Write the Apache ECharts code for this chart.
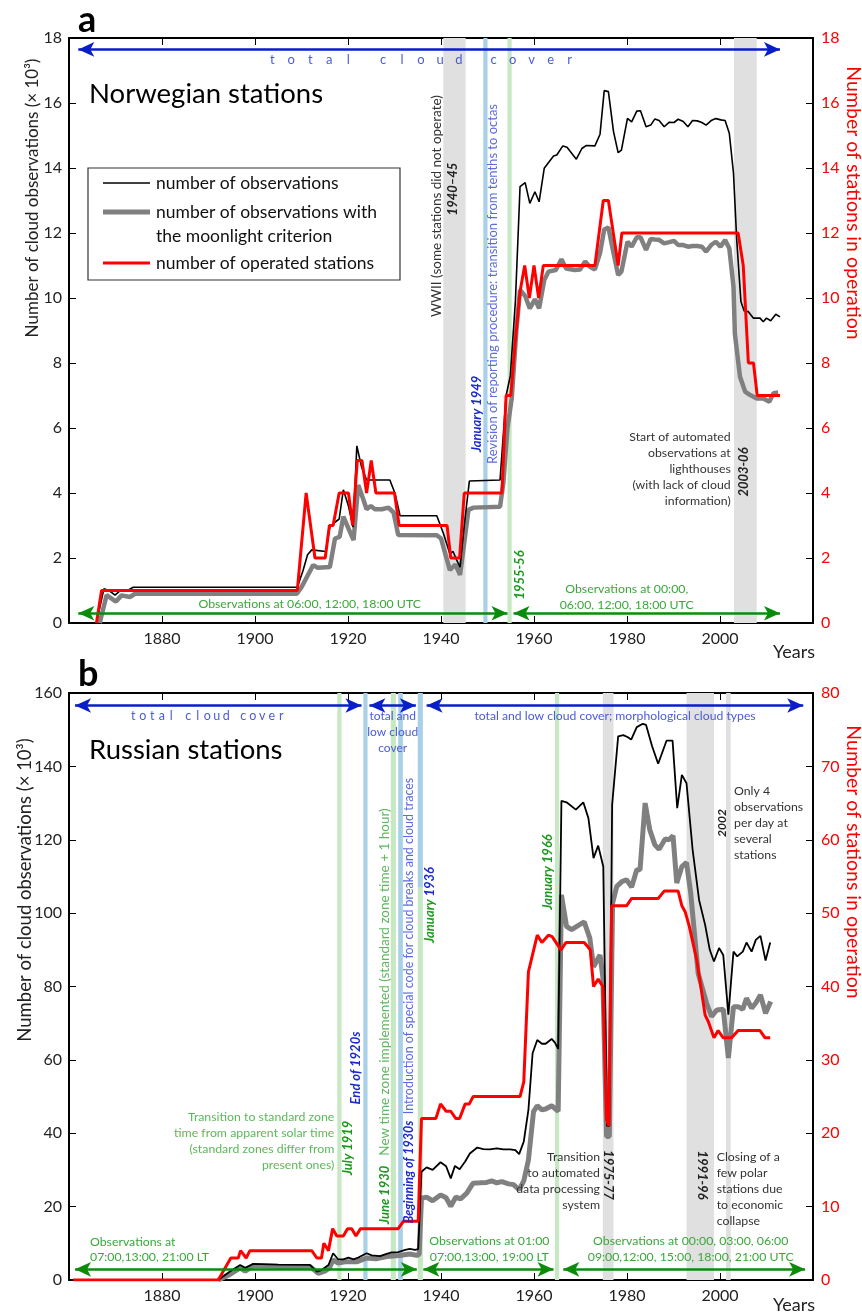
<!DOCTYPE html>
<html><head><meta charset="utf-8">
<script src="https://cdn.jsdelivr.net/npm/echarts@6/dist/echarts.min.js"></script>
<style>html,body{margin:0;padding:0;background:#fff}#c{width:862px;height:1314px}</style>
</head><body><div id="c"></div>
<script>
// ---------- DATA: Norwegian stations (panel a) ----------
const obsNorway = [[1865.9,0],[1867.5,1.05],[1868.6,1.0],[1869.9,0.86],[1871.2,1.02],[1872.6,1.0],[1873.8,1.1],[1909.1,1.1],[1910.3,1.6],[1911.3,2.1],[1912.2,2.25],[1915.2,2.2],[1916.1,2.96],[1917.2,3.1],[1918.1,3.2],[1919.0,4.1],[1920.1,3.6],[1921.1,2.95],[1921.9,5.45],[1922.9,4.81],[1924.0,4.4],[1929.0,4.4],[1930.1,3.99],[1931.2,3.3],[1939.1,3.3],[1940.5,2.76],[1941.9,2.14],[1942.6,2.2],[1943.3,1.96],[1944.1,1.72],[1945.0,3.0],[1946.1,4.37],[1952.7,4.4],[1953.5,6.0],[1954.0,7.0],[1954.9,7.6],[1956.0,9.9],[1956.6,12.0],[1957.0,13.43],[1958.1,13.55],[1959.1,12.91],[1960.2,13.27],[1961.1,12.96],[1962.2,13.99],[1964.2,14.37],[1964.9,14.4],[1966.2,14.68],[1967.1,14.64],[1969.1,14.27],[1970.3,14.6],[1971.2,14.69],[1973.1,14.68],[1974.2,15.04],[1975.1,16.38],[1976.0,16.35],[1977.1,15.12],[1978.1,14.47],[1978.8,14.55],[1980.1,15.53],[1981.0,15.42],[1982.1,15.75],[1982.9,15.76],[1984.1,15.27],[1985.1,15.32],[1986.0,15.51],[1986.9,15.46],[1988.0,15.27],[1989.1,15.41],[1990.1,15.4],[1991.0,15.5],[1992.1,15.43],[1993.1,15.27],[1994.1,15.46],[1995.1,15.45],[1996.1,15.4],[1997.0,15.32],[1998.1,15.46],[1999.1,15.52],[2000.2,15.48],[2001.1,15.46],[2002.0,15.07],[2002.9,13.84],[2003.6,11.78],[2004.5,9.89],[2005.2,9.6],[2006.1,9.58],[2007.2,9.38],[2008.6,9.38],[2009.3,9.27],[2010.0,9.38],[2010.9,9.3],[2012.0,9.5],[2012.9,9.42]];
const moonNorway = [[1866.6,0],[1868.1,0.86],[1870.1,0.66],[1871.3,0.85],[1873.1,0.8],[1874.2,0.9],[1909.0,0.9],[1910.0,1.1],[1912.5,1.78],[1913.5,1.7],[1916.1,1.72],[1917.2,2.6],[1918.2,2.65],[1919.0,3.27],[1921.2,2.55],[1922.2,4.25],[1923.3,3.8],[1924.0,3.5],[1924.9,3.6],[1925.8,3.5],[1927.3,3.5],[1928.7,3.55],[1929.8,3.4],[1930.8,2.71],[1939.1,2.7],[1940.0,2.6],[1941.9,1.63],[1943.1,1.8],[1944.1,1.48],[1945.9,3.48],[1947.0,3.55],[1952.7,3.58],[1953.4,4.3],[1954.3,6.0],[1955.2,6.9],[1956.2,9.0],[1957.0,10.25],[1958.1,10.06],[1959.1,9.68],[1960.2,9.96],[1961.1,9.68],[1962.2,10.55],[1963.1,10.81],[1964.7,10.86],[1965.9,11.19],[1966.9,10.91],[1968.8,10.86],[1969.9,10.88],[1971.0,11.12],[1972.0,10.96],[1973.1,10.88],[1974.2,11.38],[1975.1,12.11],[1976.0,12.17],[1977.1,11.38],[1978.1,10.71],[1978.8,10.81],[1980.1,11.73],[1981.0,11.58],[1982.1,11.87],[1982.9,11.87],[1984.1,11.48],[1985.1,11.82],[1986.0,11.8],[1986.9,11.79],[1988.0,11.68],[1989.1,11.72],[1990.1,11.76],[1991.0,11.63],[1992.1,11.63],[1993.1,11.58],[1994.1,11.6],[1995.1,11.6],[1996.1,11.58],[1997.0,11.43],[1998.1,11.63],[1999.1,11.73],[2000.1,11.58],[2001.1,11.78],[2002.0,11.53],[2002.9,10.35],[2003.2,8.9],[2004.3,7.58],[2005.4,7.12],[2006.4,7.02],[2007.9,6.91],[2009.3,6.91],[2010.6,6.81],[2011.5,7.07],[2012.5,7.09]];
const stationsNorway = [[1865.9,0],[1867.0,1],[1909.1,1],[1911.0,4],[1912.9,2],[1915.1,2],[1916.0,3],[1916.8,3],[1918.1,4],[1920.1,4],[1921.0,3],[1922.0,5],[1923.0,5],[1924.0,4],[1925.0,5],[1926.0,4],[1930.0,4],[1931.0,3],[1941.3,3],[1942.1,2],[1944.0,2],[1945.0,4],[1953.1,4],[1954.0,7],[1955.0,7],[1956.0,8.7],[1957.0,10.2],[1958.0,11],[1959.0,10],[1960.0,11],[1961.0,10],[1962.0,11],[1973.1,11],[1974.9,13],[1976.0,13],[1978.1,11],[1978.9,12],[2003.9,12],[2005.0,11],[2006.1,8],[2007.2,8],[2008.0,7],[2012.9,7]];

// ---------- DATA: Russian stations (panel b) ----------
const obsRussia = [[1892.1,0],[1894.6,2.3],[1896.8,4.1],[1897.9,3.3],[1899.6,4.4],[1905.0,4.2],[1911.8,4.1],[1913.3,2.3],[1914.3,2.7],[1915.8,4.1],[1916.8,7.3],[1917.9,5.6],[1919.0,5.6],[1920.1,6.1],[1921.2,5.6],[1922.2,6.1],[1924.0,7.3],[1925.1,6.7],[1926.9,6.5],[1928.3,7.1],[1929.4,7.5],[1930.8,7.6],[1932.3,8.2],[1933.3,8.5],[1934.4,8.2],[1935.1,8.4],[1935.8,29.5],[1936.9,30.7],[1938.2,30.0],[1939.9,32.1],[1941.1,31.0],[1942.1,27.7],[1943.0,31.1],[1944.0,30.2],[1945.2,32.3],[1946.2,34.5],[1947.8,36.1],[1949.1,35.7],[1950.5,35.6],[1952.0,35.9],[1953.4,35.6],[1954.9,35.6],[1956.0,35.4],[1956.8,34.3],[1957.8,37.7],[1958.8,46.4],[1959.7,61.8],[1960.7,65.4],[1961.7,64.4],[1962.5,64.4],[1963.8,65.7],[1964.5,64.7],[1965.2,63.0],[1965.9,130.6],[1967.0,130.2],[1969.0,128.2],[1970.6,130.2],[1971.7,125.9],[1972.8,115.0],[1973.8,118.4],[1974.9,112.7],[1975.7,42],[1976.2,42],[1976.8,129.5],[1978.1,148.2],[1979.2,148.5],[1980.1,148.0],[1980.9,147.3],[1982.1,150.7],[1983.4,151.6],[1984.1,151.3],[1985.4,145.5],[1986.7,140.7],[1988.5,147.0],[1989.8,147.0],[1990.8,128.6],[1991.8,137.7],[1992.8,135.4],[1994.1,117.4],[1995.5,103.6],[1996.8,96.8],[1997.8,90.0],[1998.7,86.8],[1999.8,90.5],[2000.7,88.6],[2001.8,72.3],[2002.9,89.5],[2003.7,88.2],[2004.9,89.5],[2005.7,92.0],[2006.8,89.5],[2007.7,92.7],[2008.7,93.8],[2009.8,87.1],[2010.8,92.0]];
const moonRussia = [[1892.1,0],[1894.6,1.5],[1896.8,3.3],[1897.9,2.4],[1899.6,3.9],[1905.0,3.7],[1911.8,3.7],[1913.6,1.8],[1915.0,2.4],[1916.0,3.3],[1916.8,5.5],[1917.9,4.6],[1919.7,5.0],[1922.0,5.0],[1924.0,6.0],[1926.0,5.8],[1928.3,6.4],[1931.1,6.7],[1933.3,7.1],[1934.8,6.7],[1935.3,7.0],[1935.8,22.3],[1936.9,22.6],[1938.2,21.6],[1939.9,23.2],[1941.1,22.4],[1942.1,20.1],[1943.2,22.6],[1944.2,22.1],[1945.5,23.6],[1946.9,26.4],[1948.4,26.5],[1949.8,26.6],[1950.9,27.0],[1952.0,26.5],[1953.1,26.8],[1954.5,26.2],[1955.6,26.0],[1956.8,24.6],[1957.8,27.0],[1958.8,32.7],[1959.9,45.9],[1960.7,47.5],[1961.7,46.4],[1962.5,46.6],[1963.8,47.5],[1964.7,46.5],[1965.2,46.0],[1965.9,105.0],[1967.0,96.4],[1968.1,95.5],[1969.2,96.4],[1970.8,97.6],[1972.0,93.2],[1972.8,85.4],[1973.5,87.0],[1974.2,88.6],[1974.8,82.7],[1975.6,39.1],[1976.2,39.1],[1976.9,102.7],[1977.8,107.3],[1978.9,108.6],[1979.9,109.1],[1981.0,107.1],[1982.1,111.8],[1982.8,111.8],[1983.9,130.0],[1984.9,122.7],[1986.0,118.6],[1986.9,117.4],[1988.2,120.2],[1989.0,120.0],[1989.9,121.1],[1990.7,108.2],[1991.8,112.7],[1992.8,113.8],[1993.7,105.5],[1995.3,83.6],[1997.1,75.5],[1998.2,71.8],[1999.3,73.6],[2000.7,73.8],[2001.8,60.5],[2002.9,74.5],[2003.9,74.5],[2004.9,73.8],[2005.7,76.8],[2006.8,74.1],[2007.7,75.5],[2008.7,77.7],[2009.8,72.7],[2010.9,75.9]];
const stationsRussia = [[1860.9,0],[1892.1,0],[1894.8,3],[1896.4,3],[1896.9,4],[1898.1,3],[1898.9,4],[1912.2,4],[1913.3,3],[1914.3,3],[1914.8,5],[1915.8,4],[1916.7,7],[1917.6,6],[1919.0,6],[1919.9,7],[1920.8,7],[1921.7,6],[1922.7,7],[1930.8,7],[1931.9,8],[1935.1,8],[1935.8,22],[1938.9,22],[1939.9,24],[1941.1,23],[1942.1,23],[1943.2,22],[1944.0,22],[1945.2,24],[1946.1,24],[1946.9,25],[1957.0,25],[1957.8,27],[1958.8,42],[1960.7,47],[1961.7,46],[1963.1,47],[1963.9,46.8],[1965.8,45],[1966.9,46],[1970.8,46],[1972.1,45],[1972.8,40],[1973.8,41],[1974.8,40],[1975.6,21.8],[1976.1,21],[1976.7,51],[1979.9,51],[1981.0,52],[1986.7,52],[1988.0,53],[1991.0,53],[1991.8,51],[1992.5,50.2],[1993.4,48.2],[1995.0,43.6],[1996.8,36.1],[1997.5,35.2],[1998.7,33],[1999.6,34],[2000.7,33],[2002.5,33],[2003.9,34],[2008.6,34],[2009.7,33],[2010.8,33]];

// ---------- annotation periods (years) ----------
const bandsNorway = [[1940.5,1945.3,'grey'],[1949.1,1950.0,'blue'],[1954.3,1955.2,'green'],[2003.0,2007.9,'grey']];
const bandsRussia = [[1917.7,1918.6,'green'],[1923.3,1924.2,'blue'],[1929.2,1930.3,'green'],[1930.8,1931.8,'blue'],[1964.5,1965.4,'green'],[1974.8,1977.1,'grey'],[1992.8,1998.7,'grey'],[2001.3,2002.3,'grey']];
const arrowsNorway = [[1862,2012.9,17.65,'blue'],[1862,1954.3,0.3,'green'],[1955.6,2012.9,0.3,'green']];
const arrowsRussia = [[1861.3,1922.9,156.6,'blue'],[1924.6,1934.6,156.6,'blue'],[1936.9,2017.9,156.6,'blue'],[1861.3,1934.8,2.9,'green'],[1936.2,1964.2,2.9,'green'],[1966.3,2018.3,2.9,'green']];

const FF = 'Lato, "Open Sans", sans-serif';
const bandColor = {grey:'#e0e0e0', blue:'#a8d0e6', green:'#c6e9c4'};
const arrowColor = {blue:'#0a1ec8', green:'#0a8c0a'};

function xAx(grid, bottom){
  return {type:'value', gridIndex:grid, min:1860, max:2020, interval:20, position: bottom?'bottom':'top',
    axisLine:{show:true, onZero:false, lineStyle:{color:'#000', width:2}},
    axisTick:{show:true, inside:true, length:7, lineStyle:{color:'#000', width:1}},
    axisLabel:{show:bottom, showMinLabel:false, showMaxLabel:false, fontSize:16, color:'#222', fontFamily:FF, margin:8,
      formatter:function(v){return String(v);}},
    splitLine:{show:false}};
}
function yAx(grid, left, max, interval, color){
  return {type:'value', gridIndex:grid, min:0, max:max, interval:interval, position:left?'left':'right',
    axisLine:{show:true, onZero:false, lineStyle:{color:'#000', width:2}},
    axisTick:{show:true, inside:true, length:7, lineStyle:{color:'#000', width:1}},
    axisLabel:{fontSize:16, color:color, fontFamily:FF, margin:left?7:8},
    splitLine:{show:false}};
}
function areas(bands){ return bands.map(b=>[{xAxis:b[0], itemStyle:{color:bandColor[b[2]]}},{xAxis:b[1]}]); }
function arrows(list){ return list.map(a=>[{coord:[a[0],a[2]], lineStyle:{color:arrowColor[a[3]], width:2.5, type:'solid'}},{coord:[a[1],a[2]]}]); }

const extraAreasRussia = [
  [{xAxis:1935.0, yAxis:106.9, itemStyle:{color:bandColor.blue}},{xAxis:1936.1, yAxis:160}],
  [{xAxis:1935.0, yAxis:0, itemStyle:{color:bandColor.green}},{xAxis:1936.1, yAxis:106.9}]
];

function T(x,y,text,o){
  o=o||{};
  const st={text:text, fill:o.color||'#222', fontSize:o.size||14, fontFamily:FF,
    fontWeight:o.weight||'normal', fontStyle:o.style||'normal',
    align:o.align||'center', verticalAlign:o.va||'middle',
    textAlign:o.align||'center', textVerticalAlign:o.va||'middle'};
  if(o.lh) st.lineHeight=o.lh;
  if(o.rich) st.rich=o.rich;
  return {type:'text', x:x, y:y, rotation:o.rot||0, silent:true, z:100, style:st};
}
const UP = Math.PI/2, DOWN = -Math.PI/2;
function spaced(x0, y, words, pitch, gap, size, color){
  const out=[]; let x=x0;
  words.forEach((w)=>{
    for(let i=0;i<w.length;i++){ out.push(T(x,y,w[i],{size:size,color:color})); if(i<w.length-1) x+=pitch; }
    x += gap;
  });
  return out;
}
function bi(x,y,text,color,rot,size){ return T(x,y,text,{weight:'bold',style:'italic',color:color,rot:rot,size:size||13}); }

const lightBlue='#4b5bd9', revBlue='#5b6be0', darkBlue='#1a2ad0', lightGreen='#3aa83a', green2='#5cb85c', darkGreen='#1a9a1a', dark='#333';
const AS = 12.3; // annotation text size

const graphics = [
  T(78,20,'a',{size:36,weight:'bold',align:'left',color:'#000'}),
  T(78,674,'b',{size:36,weight:'bold',align:'left',color:'#000'}),
  T(89,94,'Norwegian stations',{size:27.5,align:'left',color:'#000'}),
  T(89,750,'Russian stations',{size:27.5,align:'left',color:'#000'}),
  T(33,198,'Number of cloud observations (× 10³)',{size:17,rot:UP,color:'#222'}),
  T(853,203,'Number of stations in operation',{size:19.5,rot:DOWN,color:'#ff0000'}),
  T(25,890,'Number of cloud observations (× 10³)',{size:18.5,rot:UP,color:'#222'}),
  T(853,862,'Number of stations in operation',{size:19.5,rot:DOWN,color:'#ff0000'}),
  T(794,652,'Years',{size:18,color:'#222'}),
  T(794,1305,'Years',{size:18,color:'#222'}),
  {type:'rect', silent:true, z:90, shape:{x:88,y:168,width:312,height:112}, style:{fill:'#fff', stroke:'#333', lineWidth:1.2}},
  {type:'line', silent:true, z:95, shape:{x1:103,y1:183,x2:150,y2:183}, style:{stroke:'#000', lineWidth:1.5}},
  {type:'line', silent:true, z:95, shape:{x1:103,y1:212,x2:150,y2:212}, style:{stroke:'#808080', lineWidth:5}},
  {type:'line', silent:true, z:95, shape:{x1:103,y1:263,x2:150,y2:263}, style:{stroke:'#ff0000', lineWidth:3}},
  T(156,183,'number of observations',{size:17.5,align:'left',color:'#111'}),
  T(156,212,'number of observations with',{size:17.5,align:'left',color:'#111'}),
  T(156,236,'the moonlight criterion',{size:17.5,align:'left',color:'#111'}),
  T(156,263,'number of operated stations',{size:17.5,align:'left',color:'#111'}),
  T(436.7,206,'WWII (some stations did not operate)',{size:13.5,rot:UP,color:dark}),
  bi(453,189,'1940–45','#222',UP),
  bi(476.7,414,'January 1949',darkBlue,UP),
  T(492.7,284,'Revision of reporting procedure: transition from tenths to octas',{size:13,rot:UP,color:revBlue}),
  bi(520,575,'1955-56',darkGreen,UP),
  bi(744,472,'2003-06','#222',UP),
  T(309.7,604,'Observations at 06:00, 12:00, 18:00 UTC',{size:AS,color:lightGreen}),
  T(626.7,589.3,'Observations at 00:00,',{size:AS,color:lightGreen}),
  T(626.7,605,'06:00, 12:00, 18:00 UTC',{size:AS,color:lightGreen}),
  T(730.7,429.3,'Start of automated\nobservations at\nlighthouses\n(with lack of cloud\ninformation)',{size:AS,align:'right',va:'top',lh:16,color:dark}),
  T(392.7,708,'total and\nlow cloud\ncover',{size:12,va:'top',lh:16,color:lightBlue}),
  T(615,716,'total and low cloud cover; morphological cloud types',{size:12.2,color:lightBlue}),
  T(90,1241.7,'Observations at',{size:AS,align:'left',color:lightGreen}),
  T(90,1257,'07:00,13:00, 21:00 LT',{size:AS,align:'left',color:lightGreen}),
  T(489.3,1241,'Observations at 01:00',{size:AS,color:lightGreen}),
  T(489.3,1256.7,'07:00,13:00, 19:00 LT',{size:AS,color:lightGreen}),
  T(690.7,1241,'Observations at 00:00, 03:00, 06:00',{size:AS,color:lightGreen}),
  T(690.7,1256.7,'09:00,12:00, 15:00, 18:00, 21:00 UTC',{size:AS,color:lightGreen}),
  T(334.3,1109.3,'Transition to standard zone\ntime from apparent solar time\n(standard zones differ from\npresent ones)',{size:AS,align:'right',va:'top',lh:16,color:green2}),
  bi(348.3,1148,'July 1919',darkGreen,UP),
  bi(356,1068,'End of 1920s',darkBlue,UP),
  T(385,982,'New time zone implemented (standard zone time + 1 hour)',{size:13.5,rot:UP,color:green2}),
  bi(385,1195,'June 1930',darkGreen,UP),
  T(409.3,946,'Introduction of special code for cloud breaks and cloud traces',{size:12.5,rot:UP,color:revBlue}),
  bi(409.3,1172,'Beginning of 1930s',darkBlue,UP,12.5),
  T(430,905,'{g|January} {b|1936}',{rot:UP,size:13,weight:'bold',style:'italic',
     rich:{g:{fill:darkGreen,color:darkGreen,fontSize:13,fontWeight:'bold',fontStyle:'italic',fontFamily:FF},
           b:{fill:darkBlue,color:darkBlue,fontSize:13,fontWeight:'bold',fontStyle:'italic',fontFamily:FF}}}),
  bi(548.3,872,'January 1966',darkGreen,UP),
  T(734,782.7,'Only 4\nobservations\nper day at\nseveral\nstations',{size:AS,align:'left',va:'top',lh:16,color:dark}),
  bi(721.7,823,'2002','#222',UP,12),
  T(600,1148.7,'Transition\nto automated\ndata processing\nsystem',{size:AS,align:'right',va:'top',lh:16,color:dark}),
  bi(607.7,1175,'1975-77','#222',DOWN),
  bi(701.7,1175,'1991-96','#222',DOWN),
  T(716.7,1148.7,'Closing of a\nfew polar\nstations due\nto economic\ncollapse',{size:AS,align:'left',va:'top',lh:16,color:dark})
]
.concat(spaced(272.3,60,['total','cloud','cover'],19,34.7,13,lightBlue))
.concat(spaced(133.3,716,['total','cloud','cover'],9.5,17,12.5,lightBlue));

const chart = echarts.init(document.getElementById('c'), null, {renderer:'canvas'});
chart.setOption({
  animation:false,
  backgroundColor:'#fff',
  textStyle:{fontFamily:FF},
  grid:[{left:69, top:38, width:744, height:585},{left:69, top:693, width:744, height:587}],
  xAxis:[xAx(0,true), xAx(0,false), xAx(1,true), xAx(1,false)],
  yAxis:[yAx(0,true,18,2,'#222'), yAx(0,false,18,2,'#ff0000'), yAx(1,true,160,20,'#222'), yAx(1,false,80,10,'#ff0000')],
  series:[
    {type:'line', name:'moonA', xAxisIndex:0, yAxisIndex:0, data:moonNorway, symbol:'none', lineStyle:{color:'#808080', width:4.5}, z:2,
      markArea:{silent:true, data:areas(bandsNorway)},
      markLine:{silent:true, symbol:['arrow','arrow'], symbolSize:[11,16], label:{show:false}, emphasis:{disabled:true}, data:arrows(arrowsNorway)}},
    {type:'line', name:'obsA', xAxisIndex:0, yAxisIndex:0, data:obsNorway, symbol:'none', lineStyle:{color:'#000', width:1.6}, z:3},
    {type:'line', name:'stA', xAxisIndex:0, yAxisIndex:1, data:stationsNorway, symbol:'none', lineStyle:{color:'#ff0000', width:3}, z:4},
    {type:'line', name:'moonB', xAxisIndex:2, yAxisIndex:2, data:moonRussia, symbol:'none', lineStyle:{color:'#808080', width:5}, z:2,
      markArea:{silent:true, data:areas(bandsRussia).concat(extraAreasRussia)},
      markLine:{silent:true, symbol:['arrow','arrow'], symbolSize:[11,16], label:{show:false}, emphasis:{disabled:true}, data:arrows(arrowsRussia)}},
    {type:'line', name:'obsB', xAxisIndex:2, yAxisIndex:2, data:obsRussia, symbol:'none', lineStyle:{color:'#000', width:1.8}, z:3},
    {type:'line', name:'stB', xAxisIndex:2, yAxisIndex:3, data:stationsRussia, symbol:'none', lineStyle:{color:'#ff0000', width:3}, z:4}
  ],
  graphic:graphics
});
</script></body></html>
